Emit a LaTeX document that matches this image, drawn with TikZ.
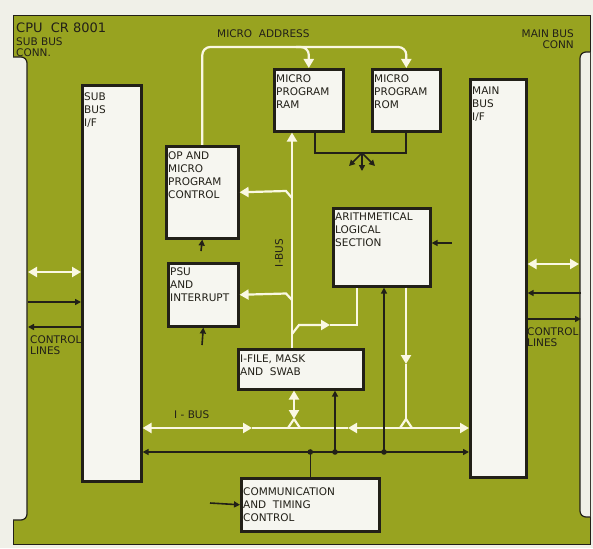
\documentclass[tikz,border=0pt]{standalone}
\usepackage{fontspec}
\setmainfont{DejaVu Sans}
\usetikzlibrary{arrows.meta}
\definecolor{panel}{RGB}{152,163,32}
\definecolor{paper}{RGB}{240,240,232}
\definecolor{boxfill}{RGB}{246,246,240}
\definecolor{ink}{RGB}{34,32,24}
\definecolor{wire}{RGB}{250,248,226}
\begin{document}
\begin{tikzpicture}[x=1pt,y=-1pt,
  box/.style={draw=ink, line width=2.6pt, fill=boxfill, anchor=north west, inner sep=0pt},
  boxlbl/.style={anchor=north west, align=left, inner sep=0pt, xshift=3pt, yshift=-7pt, text=ink, font=\fontsize{10.5}{13}\selectfont},
  txt/.style={text=ink, inner sep=0pt, font=\fontsize{10.5}{11}\selectfont},
  wl/.style={draw=wire, line width=2.2pt},
  bl/.style={draw=ink, line width=1.6pt},
  wtip/.tip={Triangle[length=9pt,width=10pt]},
  btip/.tip={Triangle[length=6pt,width=6pt]},
  dot/.style={fill=ink}
]
\useasboundingbox (0,0) rectangle (593,548);
\fill[paper] (0,0) rectangle (593,548);
\draw[ink, line width=1pt, fill=panel] (13,16) rectangle (590,544);
% connector strips
\draw[ink, line width=1.2pt, fill=paper, rounded corners=6pt] (13,57) -- (27,57) -- (27,520) -- (13,520);
\draw[ink, line width=1.2pt, fill=paper, rounded corners=6pt] (590,52) -- (580,52) -- (580,517) -- (590,517);

% boxes
\node[box, minimum width=59pt, minimum height=396pt, label={[boxlbl, yshift=-2pt]north west:{SUB\\BUS\\I/F}}] (sub) at (81,84) {};
\node[box, minimum width=56pt, minimum height=398pt, label={[boxlbl, yshift=-2pt]north west:{MAIN\\BUS\\I/F}}] (main) at (469,78) {};
\node[box, minimum width=69pt, minimum height=62pt, label={[boxlbl]north west:{MICRO\\PROGRAM\\RAM}}] (ram) at (273,68) {};
\node[box, minimum width=68pt, minimum height=62pt, label={[boxlbl]north west:{MICRO\\PROGRAM\\ROM}}] (rom) at (371,68) {};
\node[box, minimum width=72pt, minimum height=92pt, label={[boxlbl]north west:{OP AND\\MICRO\\PROGRAM\\CONTROL}}] (op) at (165,145) {};
\node[box, minimum width=70pt, minimum height=63pt, label={[boxlbl, yshift=1pt]north west:{PSU\\AND\\INTERRUPT}}] (psu) at (167,262) {};
\node[box, minimum width=97pt, minimum height=78pt, label={[boxlbl, yshift=1pt]north west:{ARITHMETICAL\\LOGICAL\\SECTION}}] (als) at (332,207) {};
\node[box, minimum width=125pt, minimum height=40pt, label={[boxlbl]north west:{I-FILE, MASK\\AND\ \ SWAB}}] (ifile) at (237,348) {};
\node[box, minimum width=138pt, minimum height=53pt, label={[boxlbl, yshift=-3pt]north west:{COMMUNICATION\\AND\ \ TIMING\\CONTROL}}] (comm) at (240,477) {};

% texts
\node[txt, font=\fontsize{13}{13}\selectfont, anchor=base west] (title) at (16,33) {CPU\ \ CR 8001};
\node[txt, anchor=base west] (subconn) at (16,46) {SUB\ BUS};
\node[txt, anchor=base west] (subconn2) at (16,57) {CONN.};
\node[txt, anchor=base east] (mainconn) at (574,38) {MAIN BUS};
\node[txt, anchor=base east] (mainconn2) at (574,49) {CONN};
\node[txt, anchor=base west] (maddr) at (217,38) {MICRO\ \ ADDRESS};
\node[txt, anchor=base west] (lctl) at (30,343) {CONTROL};
\node[txt, anchor=base west] (lctl2) at (30,354) {LINES};
\node[txt, anchor=base west] (rctl) at (527,335) {CONTROL};
\node[txt, anchor=base west] (rctl2) at (527,346) {LINES};
\node[txt, anchor=base west] (ibush) at (174,418) {I - BUS};
\node[txt, rotate=90] (ibusv) at (279,253) {I-BUS};

% coordinates
\coordinate (mabus) at (250,47);
\coordinate (rambr) at (296,47);
\coordinate (ibx) at (292,0);
\coordinate (bop) at (292,198);
\coordinate (bpsu) at (292,300);
\coordinate (bals) at (292,334);
\coordinate (alsmid) at (330,325);
\coordinate (alsx) at (357,325);
\coordinate (fork2) at (406,419);
\coordinate (alsdn) at (406,364);
\coordinate (iby) at (0,428);
\coordinate (ibm1) at (252,428);
\coordinate (ibm2) at (348,428);
\coordinate (fork1) at (294,419);
\coordinate (by) at (0,452);
\coordinate (j2) at (335,452);
\coordinate (j3) at (384,452);
\coordinate (opin) at (201,251);
\coordinate (psuin) at (202,345);
\coordinate (alsin) at (452,243);
\coordinate (commin) at (210,503);
\coordinate (ramleg) at (315,153);
\coordinate (romleg) at (406,153);
\coordinate (brk) at (362,153);
\coordinate (brkl) at (349,166);
\coordinate (brkm) at (362,171);
\coordinate (brkr) at (375,166);
\coordinate (lw) at (28,272);
\coordinate (lb1) at (28,302);
\coordinate (lb2) at (28,327);
\coordinate (rw) at (579,264);
\coordinate (rb1) at (581,293);
\coordinate (rb2) at (581,319);

% white connectors
\draw[wl, rounded corners=8pt, -wtip] (op.north) |- (mabus) -| (rom.north);
\draw[wl, rounded corners=8pt, -wtip] (rambr) -| (ram.north);
\draw[wl, -wtip] (ifile.north -| ibx) -- (ram.south -| ibx);
\draw[wl, -wtip] (bop) -- ++(-6,-7) -- (op.east);
\draw[wl, -wtip] (bpsu) -- ++(-6,-6.5) -- (psu.east);
\draw[wl, -wtip] (bals) -- ++(7,-9) -- (alsmid);
\draw[wl] (alsmid) -- (alsx) -- (als.south -| alsx);
\draw[wl, -wtip] (als.south -| fork2) -- (alsdn);
\draw[wl] (alsdn) -- (fork2);
\draw[wl] (fork2) -- ++(-6,9) (fork2) -- ++(6,9);
\draw[wl, wtip-wtip] (ifile.south -| fork1) -- (fork1);
\draw[wl] (fork1) -- ++(-6,9) (fork1) -- ++(6,9);
\draw[wl, wtip-wtip] (sub.east |- iby) -- (ibm1);
\draw[wl] (ibm1) -- (ibm2);
\draw[wl, wtip-wtip] (ibm2) -- (main.west |- iby);
\draw[wl, wtip-wtip] (lw) -- (sub.west |- lw);
\draw[wl, wtip-wtip] (main.east |- rw) -- (rw);

% black connectors
\draw[bl, btip-btip] (sub.east |- by) -- (main.west |- by);
\draw[bl] (comm.north) -- (comm.north |- by);
\draw[bl, -btip] (j2) -- (ifile.south -| j2);
\draw[bl, -btip] (j3) -- (als.south -| j3);
\fill[dot] (comm.north |- by) circle (2.8pt);
\fill[dot] (j2) circle (2.8pt);
\fill[dot] (j3) circle (2.8pt);
\draw[bl, -btip] (opin) -- (op.south);
\draw[bl, -btip] (psuin) -- (psu.south);
\draw[bl, -btip] (alsin) -- (als.east |- alsin);
\draw[bl, -btip] (commin) -- (comm.west);
\draw[bl] (ram.south -| ramleg) -- (ramleg) -- (romleg) -- (rom.south -| romleg);
\draw[bl, -btip] (brk) -- (brkl);
\draw[bl, -btip] (brk) -- (brkm);
\draw[bl, -btip] (brk) -- (brkr);
\draw[bl, -btip] (lb1) -- (sub.west |- lb1);
\draw[bl, -btip] (sub.west |- lb2) -- (lb2);
\draw[bl, -btip] (rb1) -- (main.east |- rb1);
\draw[bl, -btip] (main.east |- rb2) -- (rb2);
\end{tikzpicture}
\end{document}
